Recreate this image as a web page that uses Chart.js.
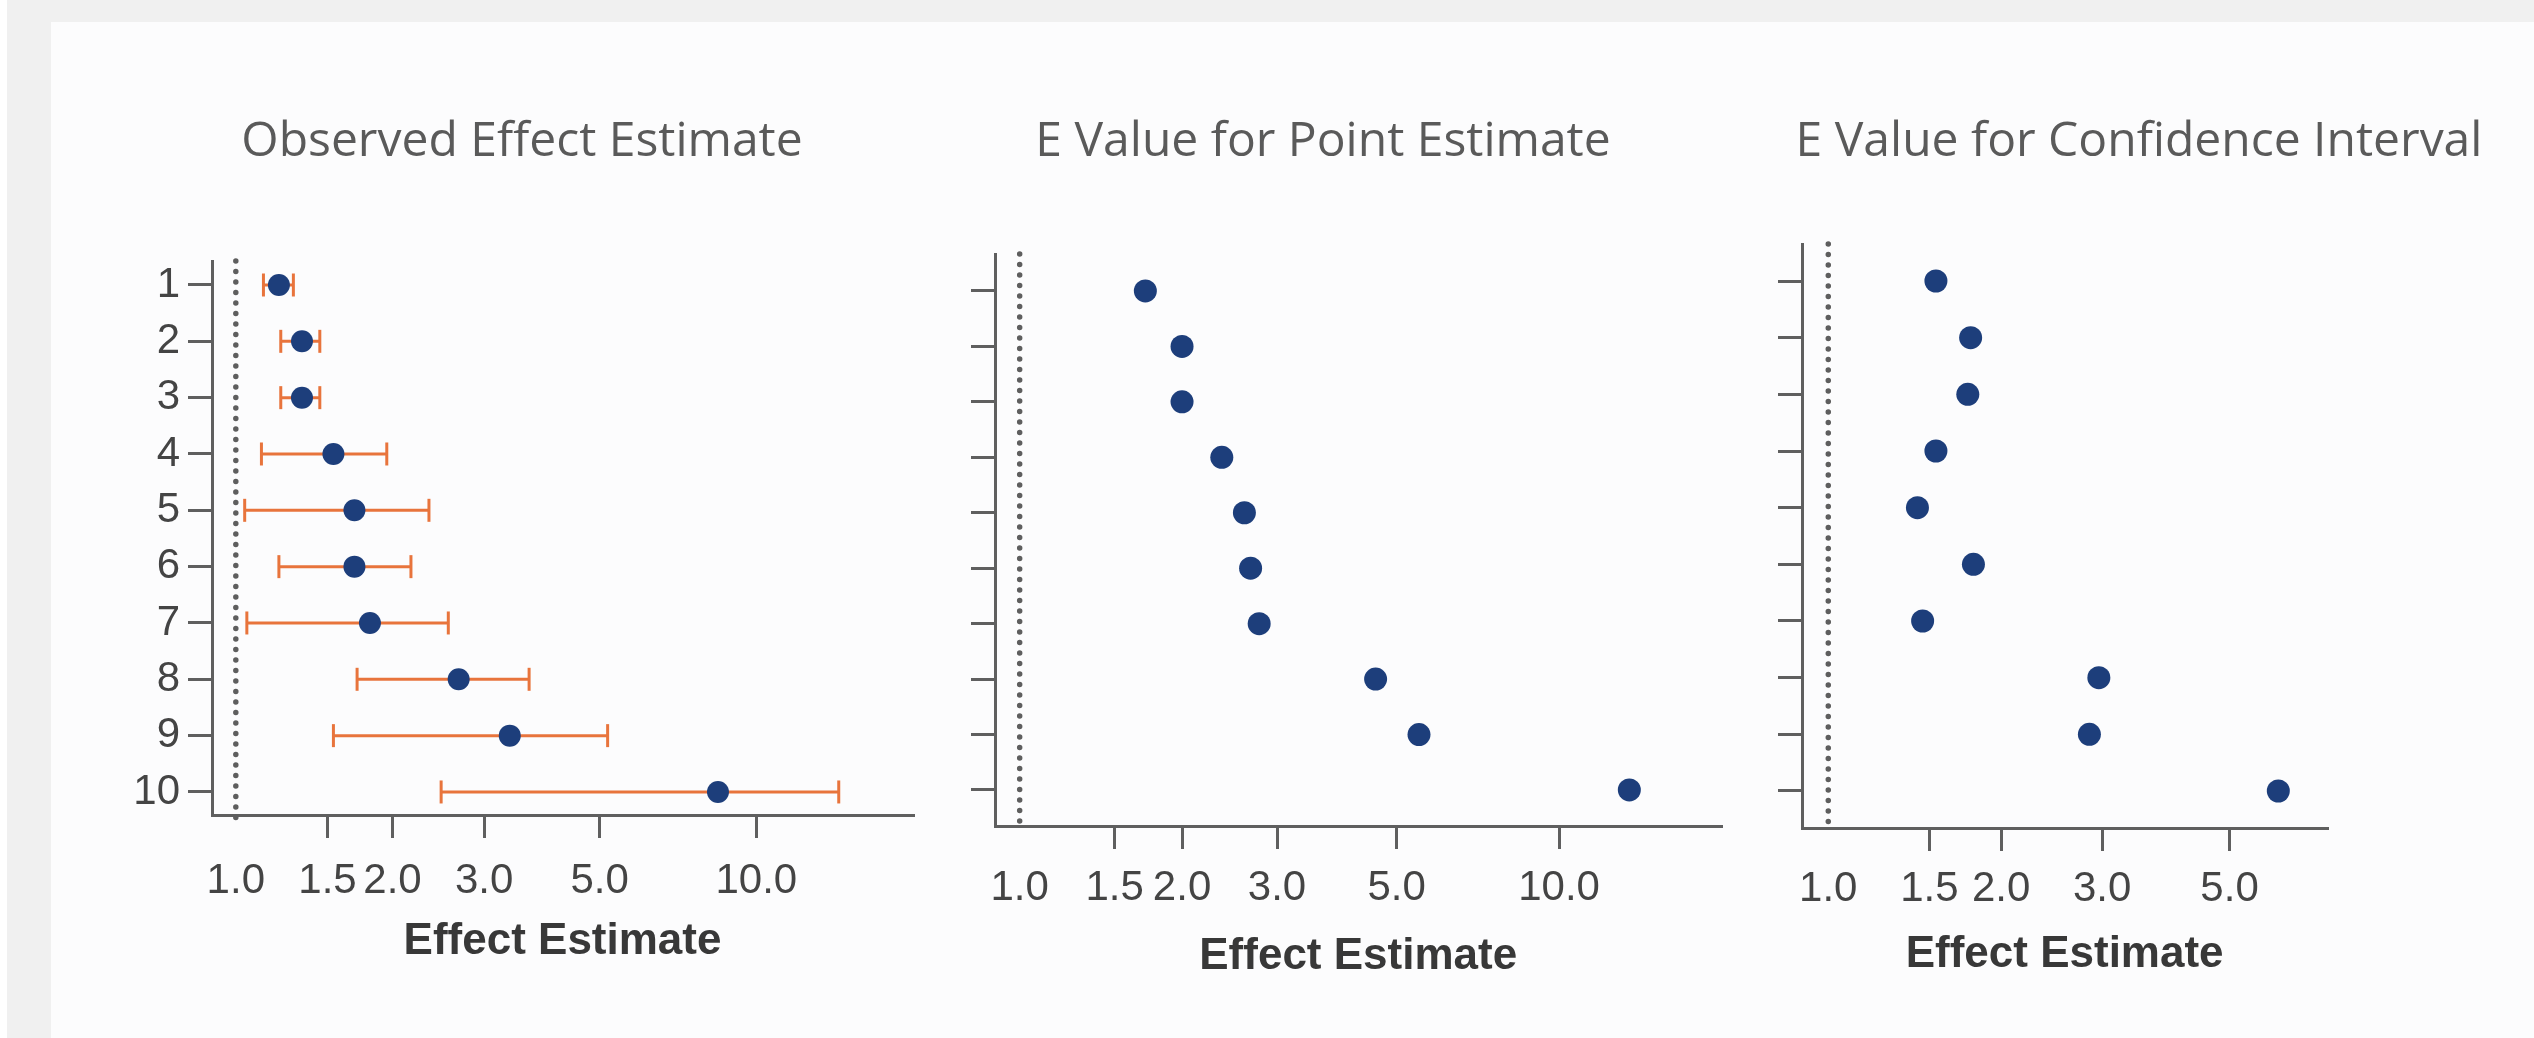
<!DOCTYPE html>
<html>
<head>
<meta charset="utf-8">
<script src="https://cdn.jsdelivr.net/npm/chart.js@4.4.1/dist/chart.umd.min.js"></script>
<style>
html, body { margin:0; padding:0; width:2534px; height:1038px; overflow:hidden; background:#ffffff; }
#bg { position:absolute; left:7px; top:0; width:2527px; height:1038px; background:#f0f0f0; }
#card { position:absolute; left:51px; top:22px; width:2483px; height:1016px; background:#fcfcfd; }
canvas { position:absolute; left:0; top:0; }
</style>
</head>
<body>
<div id="bg"></div>
<div id="card"></div>
<canvas id="panel1" width="2534" height="1038"></canvas>
<canvas id="panel2" width="2534" height="1038"></canvas>
<canvas id="panel3" width="2534" height="1038"></canvas>
<script>
// ---------------- data ----------------
const categories = ['1', '2', '3', '4', '5', '6', '7', '8', '9', '10'];
const rowPositions = [1, 2, 3, 4, 5, 6, 7, 8, 9, 10];
const observedEstimate = [1.21, 1.34, 1.34, 1.54, 1.69, 1.69, 1.81, 2.68, 3.36, 8.44];
const observedLower    = [1.13, 1.22, 1.22, 1.12, 1.04, 1.21, 1.05, 1.71, 1.54, 2.48];
const observedUpper    = [1.29, 1.45, 1.45, 1.95, 2.35, 2.17, 2.56, 3.66, 5.18, 14.4];
const eValuePoint      = [1.71, 2.00, 2.00, 2.37, 2.61, 2.68, 2.78, 4.57, 5.50, 13.5];
const eValueCI         = [1.54, 1.77, 1.75, 1.54, 1.43, 1.79, 1.46, 2.96, 2.85, 6.08];
const xTicksWide   = [1.0, 1.5, 2.0, 3.0, 5.0, 10.0];
const xTicksNarrow = [1.0, 1.5, 2.0, 3.0, 5.0];
const panelTitles = ['Observed Effect Estimate', 'E Value for Point Estimate', 'E Value for Confidence Interval'];
const xAxisTitle = 'Effect Estimate';
const nullValue = 1.0;

// ---------------- style ----------------
const NAVY = '#1d3e7b';
const ORANGE = '#e8743c';
const AXIS = '#5f5f5f';
const DOTS = '#5e5e5e';
const TICK_TEXT = '#444444';
const TITLE_TEXT = '#5a5a5a';
const AXIS_TITLE_TEXT = '#383838';
const TICK_FONT = { family: '"Liberation Sans Narrow", "Liberation Sans", Arial, sans-serif', size: 42 };

function makePanel(id, o) {
  const datasets = [];
  datasets.push({
    label: 'estimate',
    data: rowPositions.map((r, i) => ({ x: o.values[i], y: r })),
    backgroundColor: NAVY,
    pointBackgroundColor: NAVY,
    pointBorderWidth: 0,
    borderWidth: 0,
    pointRadius: o.dotR,
    pointHoverRadius: o.dotR,
    order: 0,
    clip: false
  });
  if (o.lower) {
    rowPositions.forEach((r, i) => {
      datasets.push({
        label: 'ci' + r,
        data: [{ x: o.lower[i], y: r }, { x: o.upper[i], y: r }],
        showLine: true,
        borderColor: ORANGE,
        borderWidth: 3,
        pointStyle: 'line',
        pointRotation: 90,
        pointRadius: 11.5,
        pointHoverRadius: 11.5,
        pointBorderColor: ORANGE,
        pointBorderWidth: 3,
        order: 1,
        clip: false
      });
    });
  }
  datasets.push({
    label: 'null',
    data: [{ x: nullValue, y: o.yMin }, { x: nullValue, y: o.yMax + o.refExtra }],
    showLine: true,
    borderColor: DOTS,
    borderWidth: 5.5,
    borderDash: [0, 10.5],
    borderCapStyle: 'round',
    pointRadius: 0,
    order: 2,
    clip: false
  });

  const scales = {
    x: {
      type: 'logarithmic',
      position: 'bottom',
      min: 0.9,
      max: o.xMax,
      bounds: 'data',
      afterBuildTicks: (s) => { s.ticks = o.xTicks.map(v => ({ value: v })); },
      afterFit: (s) => { s.height = o.xH; },
      grid: {
        display: true, drawOnChartArea: false, drawTicks: true, tickLength: 23,
        lineWidth: 3, color: AXIS,
        tickColor: (c) => (c.tick && c.tick.value === nullValue) ? 'rgba(0,0,0,0)' : AXIS
      },
      border: { display: true, color: AXIS, width: 3 },
      ticks: {
        autoSkip: false, maxRotation: 0, minRotation: 0,
        padding: o.xTickPad, color: TICK_TEXT, font: TICK_FONT,
        callback: (v) => Number(v).toFixed(1)
      },
      title: {
        display: true, text: xAxisTitle, color: AXIS_TITLE_TEXT,
        font: { family: '"Liberation Sans", Arial, sans-serif', size: 44, weight: 'bold' },
        padding: { top: 0, bottom: 0 }
      }
    },
    y: {
      type: 'linear',
      reverse: true,
      min: o.yMin,
      max: o.yMax,
      bounds: 'data',
      afterBuildTicks: (s) => { s.ticks = rowPositions.map(v => ({ value: v })); },
      afterFit: (s) => { s.width = o.yW; },
      grid: {
        display: true, drawOnChartArea: false, drawTicks: true, tickLength: 24,
        lineWidth: 3, color: AXIS
      },
      border: { display: true, color: AXIS, width: 3 },
      ticks: {
        display: o.showY, autoSkip: false, padding: 8, color: TICK_TEXT, font: TICK_FONT,
        callback: (v, i) => categories[i]
      }
    }
  };
  if (o.rightW) {
    // empty spacer on the right so the title can be centred wider than the plot
    scales.spacer = {
      type: 'linear', position: 'right', display: true,
      grid: { display: false }, border: { display: false }, ticks: { display: false },
      afterFit: (s) => { s.width = o.rightW; }
    };
  }

  return new Chart(document.getElementById(id), {
    type: 'scatter',
    data: { datasets },
    options: {
      responsive: false,
      animation: false,
      events: [],
      layout: { padding: { left: o.padL, right: o.padR, top: 0, bottom: o.padB } },
      plugins: {
        legend: { display: false },
        tooltip: { enabled: false },
        title: {
          display: true,
          text: o.title,
          align: 'center',
          color: TITLE_TEXT,
          font: { family: '"Open Sans", "Noto Sans", sans-serif', size: 48, weight: '400' },
          padding: { top: 114, bottom: o.titlePadB }
        }
      },
      scales
    }
  });
}

makePanel('panel1', {
  title: panelTitles[0], titlePadB: 89.4,
  values: observedEstimate, lower: observedLower, upper: observedUpper,
  xTicks: xTicksWide, xMax: 20, yMin: 0.574, yMax: 10.409, refExtra: 0.12,
  padL: 131, padR: 1621, padB: 70, xH: 153, yW: 81, dotR: 11, showY: true, xTickPad: 18
});
makePanel('panel2', {
  title: panelTitles[1], titlePadB: 82.4,
  values: eValuePoint,
  xTicks: xTicksWide, xMax: 20, yMin: 0.333, yMax: 10.65, refExtra: 0.07,
  padL: 924.6, padR: 812.6, padB: 55, xH: 157, yW: 70.4, dotR: 11.5, showY: false, xTickPad: 14
});
makePanel('panel3', {
  title: panelTitles[2], titlePadB: 72.4,
  values: eValueCI,
  xTicks: xTicksNarrow, xMax: 7.4, yMin: 0.347, yMax: 10.653, refExtra: 0.07,
  padL: 1790, padR: 46, rightW: 160.7, padB: 57, xH: 153, yW: 12, dotR: 11.5, showY: false, xTickPad: 13
});
</script>
</body>
</html>
